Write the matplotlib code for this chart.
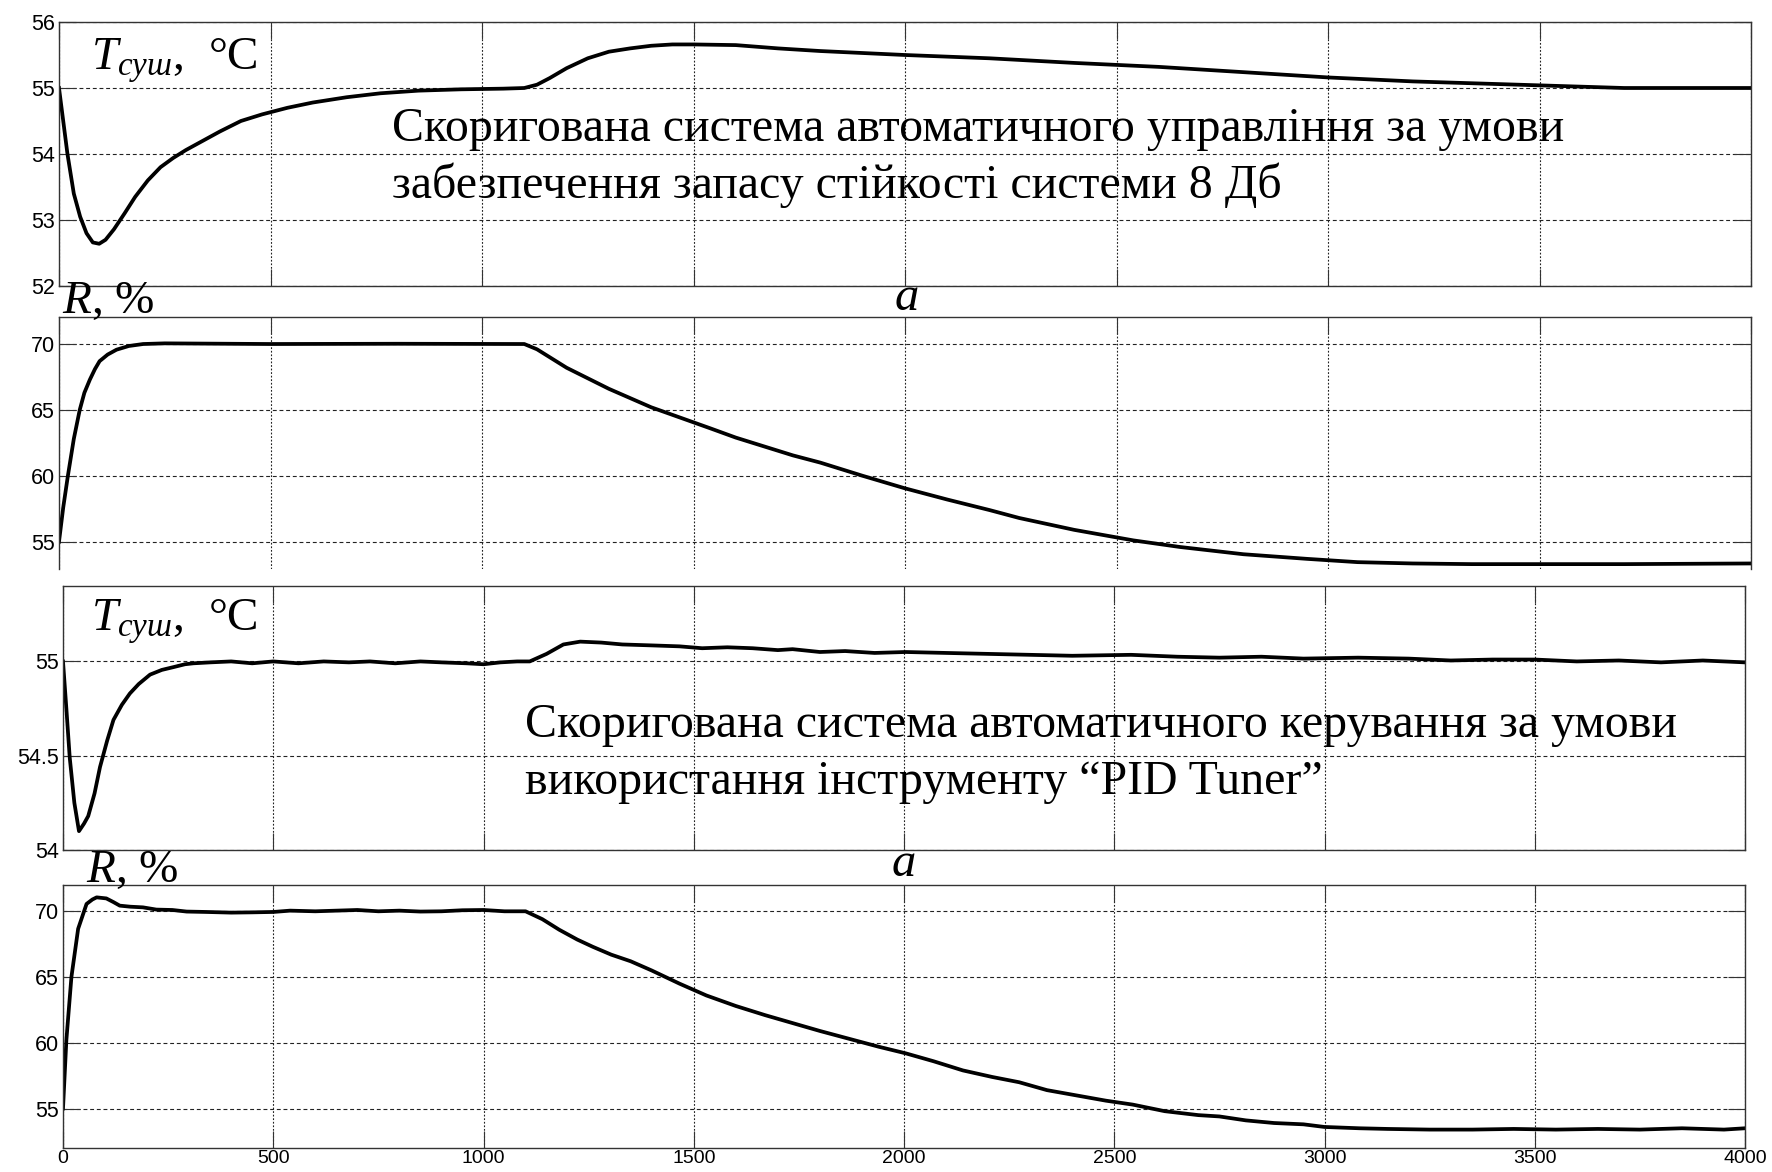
import matplotlib
matplotlib.use("Agg")
import matplotlib.pyplot as plt

# Перехідні процеси: температура сушіння та положення регулюючого органу

W, H = 1772, 1172

# a) система з запасом стійкості 8 Дб
t_temp1 = [0, 10, 20, 35, 50, 65, 80, 95, 110, 130, 155, 180, 210, 240, 270, 300,
           340, 380, 430, 480, 540, 600, 680, 760, 850, 950, 1050, 1100, 1130, 1160,
           1200, 1250, 1300, 1350, 1400, 1450, 1500, 1600, 1700, 1800, 1900, 2000,
           2200, 2400, 2600, 2800, 3000, 3200, 3400, 3500, 3600, 3700, 3800, 4000]
temp1 = [55.0, 54.5, 54.0, 53.4, 53.05, 52.8, 52.66, 52.64, 52.7, 52.86, 53.1, 53.35,
         53.6, 53.8, 53.94, 54.06, 54.2, 54.34, 54.5, 54.6, 54.7, 54.78, 54.86,
         54.92, 54.96, 54.98, 54.99, 55.0, 55.05, 55.15, 55.3, 55.45, 55.55, 55.6,
         55.64, 55.66, 55.66, 55.65, 55.6, 55.56, 55.53, 55.5, 55.45, 55.38, 55.32,
         55.24, 55.16, 55.1, 55.06, 55.04, 55.02, 55.0, 55.0, 55.0]

t_r1 = [0, 10, 21, 35, 49, 60, 73, 85, 96, 115, 136, 165, 199, 250, 500, 800, 1100,
        1130, 1160, 1200, 1250, 1300, 1350, 1400, 1470, 1540, 1600, 1670, 1735, 1800,
        1900, 2000, 2100, 2200, 2270, 2400, 2540, 2650, 2800, 2950, 3070, 3200, 3340,
        3500, 3700, 4000]
r1 = [55.0, 57.6, 60.0, 62.8, 65.0, 66.3, 67.3, 68.1, 68.7, 69.2, 69.57, 69.85, 70.0,
      70.05, 70.0, 70.02, 70.0, 69.6, 69.0, 68.2, 67.4, 66.6, 65.9, 65.2, 64.4, 63.6,
      62.9, 62.2, 61.55, 61.0, 60.0, 59.05, 58.2, 57.4, 56.8, 55.9, 55.1, 54.6, 54.05,
      53.7, 53.45, 53.35, 53.3, 53.3, 53.3, 53.35]

# б) система, налаштована через PID Tuner
t_temp2 = [0, 8, 16, 27, 38, 50, 60, 75, 88, 105, 120, 140, 159, 180, 207, 235, 263,
           290, 310, 350, 400, 450, 500, 560, 620, 680, 730, 790, 850, 900, 960, 1000,
           1040, 1080, 1110, 1150, 1190, 1230, 1280, 1330, 1400, 1466, 1520, 1580, 1640,
           1700, 1735, 1800, 1860, 1930, 2004, 2100, 2200, 2300, 2400, 2540, 2650, 2750,
           2850, 2950, 3080, 3200, 3300, 3400, 3500, 3600, 3700, 3800, 3900, 4000]
temp2 = [55.0, 54.75, 54.49, 54.25, 54.1, 54.14, 54.18, 54.3, 54.44, 54.58, 54.69,
         54.77, 54.83, 54.88, 54.93, 54.955, 54.97, 54.985, 54.99, 54.995, 55.0, 54.99,
         55.0, 54.99, 55.0, 54.995, 55.0, 54.99, 55.0, 54.995, 54.99, 54.985, 54.995,
         55.0, 55.0, 55.04, 55.09, 55.105, 55.1, 55.09, 55.085, 55.08, 55.07, 55.075,
         55.07, 55.06, 55.065, 55.05, 55.055, 55.045, 55.05, 55.045, 55.04, 55.035,
         55.03, 55.035, 55.025, 55.02, 55.025, 55.015, 55.02, 55.015, 55.005, 55.01,
         55.01, 55.0, 55.005, 54.995, 55.005, 54.995]

t_r2 = [0, 8, 20, 36, 56, 70, 80, 103, 120, 135, 160, 190, 222, 260, 294, 340, 400, 450,
        500, 540, 600, 650, 700, 750, 800, 850, 900, 950, 1000, 1050, 1100, 1140, 1180,
        1223, 1260, 1304, 1350, 1400, 1466, 1530, 1600, 1670, 1735, 1800, 1870, 1940,
        2004, 2070, 2140, 2210, 2274, 2340, 2410, 2480, 2544, 2620, 2700, 2750, 2813,
        2880, 2950, 3000, 3083, 3150, 3250, 3352, 3450, 3550, 3650, 3750, 3850, 3950,
        4000]
r2 = [55.0, 60.2, 65.0, 68.67, 70.56, 70.9, 71.06, 70.98, 70.7, 70.43, 70.35, 70.3,
      70.13, 70.1, 69.98, 69.95, 69.9, 69.92, 69.95, 70.05, 70.0, 70.05, 70.1, 70.0,
      70.05, 69.98, 70.0, 70.08, 70.1, 70.0, 70.0, 69.4, 68.6, 67.85, 67.3, 66.7, 66.2,
      65.5, 64.5, 63.6, 62.8, 62.1, 61.5, 60.9, 60.3, 59.7, 59.2, 58.6, 57.9, 57.4,
      57.0, 56.4, 56.0, 55.6, 55.3, 54.8, 54.5, 54.4, 54.1, 53.9, 53.8, 53.6, 53.5,
      53.45, 53.4, 53.4, 53.45, 53.4, 53.45, 53.4, 53.5, 53.4, 53.5]

x_ticks = [0, 500, 1000, 1500, 2000, 2500, 3000, 3500, 4000]

caption_a = ["Скоригована система автоматичного управління за умови",
             "забезпечення запасу стійкості системи 8 Дб"]
caption_b = ["Скоригована система автоматичного керування за умови",
             "використання інструменту “PID Tuner”"]

plt.rcParams["font.family"] = ["Liberation Sans", "DejaVu Sans"]
plt.rcParams["mathtext.fontset"] = "custom"
plt.rcParams["mathtext.it"] = "Liberation Serif:italic"
plt.rcParams["mathtext.rm"] = "Liberation Serif"

fig = plt.figure(figsize=(W / 100, H / 100), dpi=100)


def rect(l, t, r, b):
    return [l / W, 1 - b / H, (r - l) / W, (b - t) / H]


def pos(x, y):
    return x / W, 1 - y / H


def style(ax, yticks, ylabels=None, xlabels=False, bottom=True):
    ax.set_xlim(0, 4000)
    ax.set_xticks(x_ticks)
    ax.set_yticks(yticks)
    if ylabels:
        ax.set_yticklabels(ylabels)
    if not xlabels:
        ax.set_xticklabels([])
    ax.xaxis.grid(True, linestyle=(0, (1.6, 1.6)), color="#222222", linewidth=0.8)
    ax.yaxis.grid(True, linestyle=(0, (3.5, 2.5)), color="#222222", linewidth=0.8)
    ax.tick_params(direction="in", length=12, width=0.8, color="#333333",
                   top=True, right=True, bottom=bottom, labelsize=15.5, pad=3)
    ax.tick_params(axis="x", labelsize=14, pad=1.5)
    for s in ax.spines.values():
        s.set_color("#333333")
        s.set_linewidth(1.0)
    if not bottom:
        ax.spines["bottom"].set_visible(False)


ax1 = fig.add_axes(rect(59, 22, 1751, 286))
ax1.plot(t_temp1, temp1, color="black", linewidth=2.7)
ax1.set_ylim(52, 56)
style(ax1, [52, 53, 54, 55, 56])

ax2 = fig.add_axes(rect(59, 317, 1751, 569))
ax2.plot(t_r1, r1, color="black", linewidth=2.7)
ax2.set_ylim(52.93, 72.05)
style(ax2, [55, 60, 65, 70], bottom=False)

ax3 = fig.add_axes(rect(63, 586, 1745, 850))
ax3.plot(t_temp2, temp2, color="black", linewidth=2.7)
ax3.set_ylim(54, 55.4)
style(ax3, [54, 54.5, 55], ["54", "54.5", "55"])

ax4 = fig.add_axes(rect(63, 885, 1745, 1148))
ax4.plot(t_r2, r2, color="black", linewidth=2.7)
ax4.set_ylim(52, 72)
style(ax4, [55, 60, 65, 70], xlabels=True)

serif = ["Liberation Serif", "DejaVu Serif"]
lab = dict(fontsize=34, family=serif, va="baseline", ha="left")
fig.text(*pos(91, 70), r"$T_{суш}$,  °C", **lab)
fig.text(*pos(62, 313), r"$R$, %", **lab)
fig.text(*pos(91, 631), r"$T_{суш}$,  °C", **lab)
fig.text(*pos(86, 882), r"$R$, %", **lab)

fig.text(*pos(907, 310), "a", fontsize=35, family=serif, style="italic",
         ha="center", va="baseline")
fig.text(*pos(904, 876), "a", fontsize=35, family=serif, style="italic",
         ha="center", va="baseline")

cap = dict(fontsize=34.5, family=serif, va="baseline", ha="left")
fig.text(*pos(392, 141), caption_a[0], **cap)
fig.text(*pos(392, 198), caption_a[1], **cap)
fig.text(*pos(525, 737), caption_b[0], **cap)
fig.text(*pos(525, 794), caption_b[1], **cap)

fig.savefig("out.png", dpi=100, facecolor="white")
